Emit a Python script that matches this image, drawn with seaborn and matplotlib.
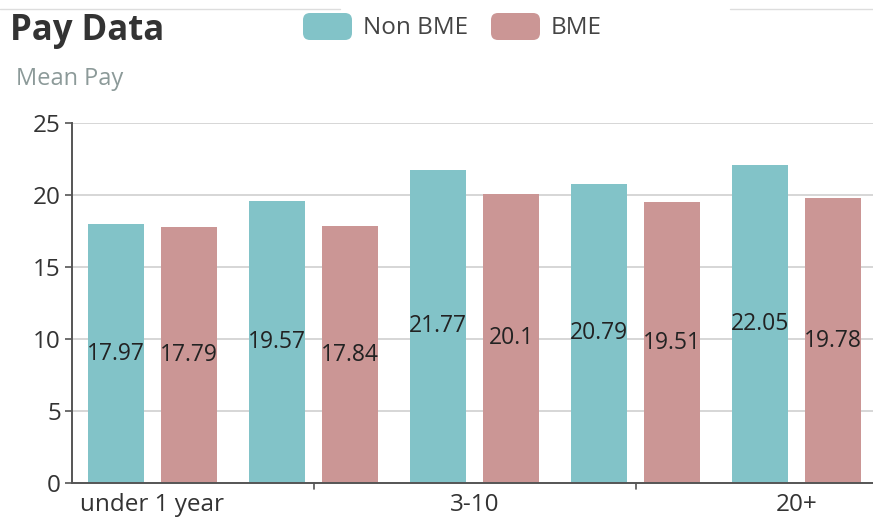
import matplotlib
matplotlib.use("Agg")
import matplotlib.pyplot as plt
from matplotlib.patches import FancyBboxPatch
from matplotlib.lines import Line2D
import seaborn as sns
import pandas as pd

categories = ["under 1 year", "1-3", "3-10", "10-20", "20+"]
non_bme = [17.97, 19.57, 21.77, 20.79, 22.05]
bme = [17.79, 17.84, 20.1, 19.51, 19.78]
series_names = ["Non BME", "BME"]
y_ticks = [0, 5, 10, 15, 20, 25]

df = pd.DataFrame({
    "category": categories * 2,
    "pay": non_bme + bme,
    "group": [series_names[0]] * len(categories) + [series_names[1]] * len(categories),
})

sns.set_theme(style="white")
plt.rcParams["font.family"] = ["Open Sans", "DejaVu Sans"]

teal = "#82c3c8"
rose = "#cb9695"

W, H = 873, 523
fig = plt.figure(figsize=(W / 100, H / 100), dpi=100)
# axes box in pixel terms: left 72, bottom 483, top 123, right 877
ax = fig.add_axes([72 / W, 1 - 483 / H, (877 - 72) / W, (483 - 123) / H])

sns.barplot(data=df, x="category", y="pay", hue="group", order=categories,
            hue_order=series_names, palette=[teal, rose], width=0.907, gap=0.233,
            saturation=1, legend=False, linewidth=0, ax=ax)

# value labels centred in each bar
for container in ax.containers:
    for patch in container:
        h = patch.get_height()
        ax.text(patch.get_x() + patch.get_width() / 2, h / 2, f"{h:g}",
                ha="center", va="center", fontsize=16.5, color="#222222")

ax.set_xlim(-0.5, len(categories) - 0.5)
ax.set_ylim(0, 25)
ax.set_yticks(y_ticks)
ax.set_yticklabels([str(t) for t in y_ticks], fontsize=17.5, color="#333333")
ax.yaxis.grid(True, color="#d0d0d0", linewidth=1.2)
ax.set_axisbelow(True)
ax.tick_params(axis="y", length=5, width=1.2, color="#555555", pad=3, left=True)

# x labels on every second category, ticks on the ones in between
ax.set_xticks([0, 2, 4])
ax.set_xticklabels([categories[i] for i in (0, 2, 4)], fontsize=17.5, color="#333333")
ax.tick_params(axis="x", length=0, pad=7)
for i in (1, 3):
    ax.plot([i, i], [0, -0.018], transform=ax.get_xaxis_transform(), color="#555555",
            linewidth=1.2, clip_on=False)

ax.set_xlabel("")
ax.set_ylabel("")
for side in ("top", "right"):
    ax.spines[side].set_visible(False)
for side in ("left", "bottom"):
    ax.spines[side].set_color("#555555")
    ax.spines[side].set_linewidth(1.4)

# title and subtitle
fig.text(10 / W, 1 - 31 / H, "Pay Data", fontsize=25, fontweight="bold",
         color="#333333", ha="left", va="center")
fig.text(16 / W, 1 - 79 / H, "Mean Pay", fontsize=17, color="#8c9a99",
         ha="left", va="center")

# thin rule along the top
for x0, x1 in ((0, 340), (730, 873)):
    fig.add_artist(Line2D([x0 / W, x1 / W], [1 - 9 / H, 1 - 9 / H], color="#dddddd",
                          linewidth=1, transform=fig.transFigure))

# legend with rounded swatches
for (x, color, label) in ((303, teal, series_names[0]), (491, rose, series_names[1])):
    box = FancyBboxPatch((x / W, 1 - 40 / H), 49 / W, 27 / H,
                         boxstyle="round,pad=0,rounding_size=0.008",
                         transform=fig.transFigure, facecolor=color, edgecolor="none",
                         mutation_aspect=W / H)
    fig.add_artist(box)
    fig.text((x + 60) / W, 1 - 28 / H, label, fontsize=17.5, color="#444444",
             ha="left", va="center")

fig.savefig("out.png", dpi=100)
